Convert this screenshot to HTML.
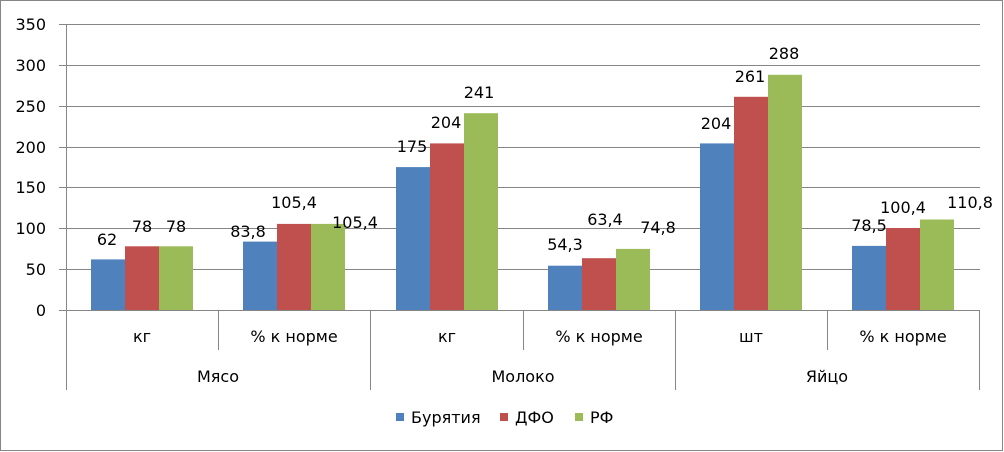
<!DOCTYPE html>
<html><head><meta charset="utf-8"><style>body{margin:0;background:#fff}svg{display:block}text{font-family:"DejaVu Sans","Liberation Sans",sans-serif;font-size:16px;fill:#000}</style></head><body>
<svg width="1004" height="452" xmlns="http://www.w3.org/2000/svg">
<rect x="0.5" y="0.5" width="1002" height="450" fill="#fff" stroke="#868686"/>
<g stroke="#868686" stroke-width="1">
<line x1="59" y1="24.5" x2="980" y2="24.5"/><line x1="59" y1="65.5" x2="980" y2="65.5"/><line x1="59" y1="106.5" x2="980" y2="106.5"/><line x1="59" y1="147.5" x2="980" y2="147.5"/><line x1="59" y1="187.5" x2="980" y2="187.5"/><line x1="59" y1="228.5" x2="980" y2="228.5"/><line x1="59" y1="269.5" x2="980" y2="269.5"/><line x1="59" y1="310.5" x2="980" y2="310.5"/>
<line x1="66.5" y1="24" x2="66.5" y2="390"/>
<line x1="218.5" y1="310" x2="218.5" y2="350"/><line x1="523.5" y1="310" x2="523.5" y2="350"/><line x1="827.5" y1="310" x2="827.5" y2="350"/>
<line x1="370.5" y1="310" x2="370.5" y2="390"/><line x1="675.5" y1="310" x2="675.5" y2="390"/><line x1="979.5" y1="310" x2="979.5" y2="390"/>
</g>
<g text-anchor="end">
<text x="46" y="30">350</text><text x="46" y="71">300</text><text x="46" y="112">250</text><text x="46" y="153">200</text><text x="46" y="193">150</text><text x="46" y="234">100</text><text x="46" y="275">50</text><text x="46" y="316">0</text>
</g>
<g>
<rect x="91" y="259.4" width="34" height="50.6" fill="#4f81bd"/><rect x="125" y="246.3" width="34" height="63.7" fill="#c0504d"/><rect x="159" y="246.3" width="34" height="63.7" fill="#9bbb59"/>
<rect x="243" y="241.6" width="34" height="68.4" fill="#4f81bd"/><rect x="277" y="223.9" width="34" height="86.1" fill="#c0504d"/><rect x="311" y="223.9" width="34" height="86.1" fill="#9bbb59"/>
<rect x="396" y="167.1" width="34" height="142.9" fill="#4f81bd"/><rect x="430" y="143.4" width="34" height="166.6" fill="#c0504d"/><rect x="464" y="113.2" width="34" height="196.8" fill="#9bbb59"/>
<rect x="548" y="265.7" width="34" height="44.3" fill="#4f81bd"/><rect x="582" y="258.2" width="34" height="51.8" fill="#c0504d"/><rect x="616" y="248.9" width="34" height="61.1" fill="#9bbb59"/>
<rect x="700" y="143.4" width="34" height="166.6" fill="#4f81bd"/><rect x="734" y="96.8" width="34" height="213.2" fill="#c0504d"/><rect x="768" y="74.8" width="34" height="235.2" fill="#9bbb59"/>
<rect x="852" y="245.9" width="34" height="64.1" fill="#4f81bd"/><rect x="886" y="228" width="34" height="82" fill="#c0504d"/><rect x="920" y="219.5" width="34" height="90.5" fill="#9bbb59"/>
</g>
<g text-anchor="middle">
<text x="107" y="245">62</text><text x="142" y="232">78</text><text x="176" y="232">78</text>
<text x="248" y="237">83,8</text><text x="294" y="208">105,4</text><text x="355" y="228">105,4</text>
<text x="412" y="152">175</text><text x="446" y="128">204</text><text x="479" y="98">241</text>
<text x="565" y="250">54,3</text><text x="605" y="225">63,4</text><text x="658" y="233">74,8</text>
<text x="716" y="129">204</text><text x="750" y="82">261</text><text x="784" y="59">288</text>
<text x="869" y="231">78,5</text><text x="903" y="213">100,4</text><text x="970" y="208">110,8</text>
<text x="142" y="342">кг</text><text x="294" y="342">% к норме</text><text x="447" y="342">кг</text><text x="599" y="342">% к норме</text><text x="751" y="342">шт</text><text x="903" y="342">% к норме</text>
<text x="218" y="382">Мясо</text><text x="523" y="382">Молоко</text><text x="827" y="382">Яйцо</text>
</g>
<rect x="396" y="413" width="8" height="8" fill="#4f81bd"/><text x="411" y="423">Бурятия</text>
<rect x="500" y="413" width="8" height="8" fill="#c0504d"/><text x="515" y="423">ДФО</text>
<rect x="575" y="413" width="8" height="8" fill="#9bbb59"/><text x="590" y="423">РФ</text>
</svg>
</body></html>
